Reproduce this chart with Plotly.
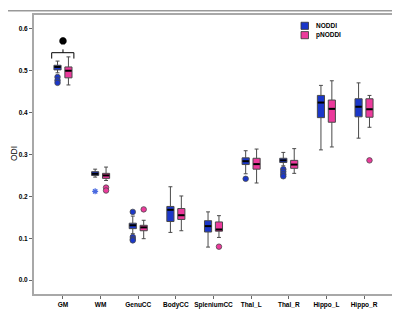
import plotly.graph_objects as go

categories = ["GM", "WM", "GenuCC", "BodyCC", "SpleniumCC", "Thal_L", "Thal_R", "Hippo_L", "Hippo_R"]

# NODDI box statistics
noddi_low = [0.495, 0.246, 0.111, 0.114, 0.079, 0.254, 0.273, 0.311, 0.339]
noddi_q1 = [0.502, 0.250, 0.123, 0.140, 0.115, 0.276, 0.281, 0.388, 0.390]
noddi_med = [0.509, 0.254, 0.131, 0.168, 0.129, 0.284, 0.286, 0.424, 0.414]
noddi_q3 = [0.513, 0.259, 0.136, 0.176, 0.142, 0.292, 0.291, 0.441, 0.433]
noddi_high = [0.523, 0.265, 0.153, 0.223, 0.163, 0.309, 0.305, 0.465, 0.471]

# pNODDI box statistics
pnoddi_low = [0.466, 0.238, 0.099, 0.118, 0.102, 0.232, 0.255, 0.318, 0.365]
pnoddi_q1 = [0.483, 0.243, 0.118, 0.145, 0.117, 0.265, 0.267, 0.377, 0.389]
pnoddi_med = [0.500, 0.250, 0.126, 0.155, 0.121, 0.277, 0.276, 0.409, 0.408]
pnoddi_q3 = [0.509, 0.255, 0.131, 0.171, 0.139, 0.291, 0.286, 0.430, 0.433]
pnoddi_high = [0.533, 0.270, 0.143, 0.201, 0.154, 0.313, 0.314, 0.476, 0.441]

# outliers (category index, value)
noddi_out_cat = [0, 0, 0, 2, 2, 2, 2, 5, 6, 6, 6, 6]
noddi_out_val = [0.485, 0.477, 0.471, 0.163, 0.103, 0.098, 0.095, 0.242, 0.265, 0.259, 0.253, 0.248]
noddi_ext_cat = [1]
noddi_ext_val = [0.212]
pnoddi_out_cat = [1, 1, 2, 4, 8]
pnoddi_out_val = [0.221, 0.214, 0.169, 0.080, 0.286]

# significance marker for GM
sig_cat = 0
sig_bracket_low = 0.529
sig_bracket_high = 0.543
sig_tick_top = 0.551
sig_star = 0.571

BLUE = "#1b37c9"
PINK = "#ec3a9c"
EDGE = "#4a4a4a"
OFF = 0.145
BW = 0.19
FONT = "Liberation Sans"

idx = list(range(len(categories)))
xn = [i - OFF for i in idx]
xp = [i + OFF for i in idx]

fig = go.Figure()

for xs, lo, q1, md, q3, hi, col, name in [
    (xn, noddi_low, noddi_q1, noddi_med, noddi_q3, noddi_high, BLUE, "NODDI"),
    (xp, pnoddi_low, pnoddi_q1, pnoddi_med, pnoddi_q3, pnoddi_high, PINK, "pNODDI"),
]:
    fig.add_trace(go.Box(
        x=xs, q1=q1, median=md, q3=q3, lowerfence=lo, upperfence=hi,
        width=BW, whiskerwidth=0.55, fillcolor=col,
        line=dict(color=EDGE, width=1), name=name, showlegend=False,
        hoverinfo="skip",
    ))
    fig.add_trace(go.Scatter(
        x=xs, y=md, mode="markers",
        marker=dict(symbol="line-ew", size=4.6, color="black", line=dict(color="black", width=2)),
        showlegend=False, hoverinfo="skip",
    ))

fig.add_trace(go.Scatter(
    x=[c - OFF for c in noddi_out_cat], y=noddi_out_val,
    mode="markers", marker=dict(symbol="circle", size=5.5, color=BLUE, line=dict(color=EDGE, width=0.8)),
    showlegend=False, hoverinfo="skip",
))
fig.add_trace(go.Scatter(
    x=[c - OFF for c in noddi_ext_cat], y=noddi_ext_val,
    mode="markers", marker=dict(symbol="asterisk-open", size=5, color="#4a6ae0", line=dict(color="#4a6ae0", width=1.2)),
    showlegend=False, hoverinfo="skip",
))
fig.add_trace(go.Scatter(
    x=[c + OFF for c in pnoddi_out_cat], y=pnoddi_out_val,
    mode="markers", marker=dict(symbol="circle", size=5.5, color=PINK, line=dict(color=EDGE, width=0.8)),
    showlegend=False, hoverinfo="skip",
))

# significance bracket and star
bx = [sig_cat - 0.30, sig_cat - 0.30, sig_cat + 0.29, sig_cat + 0.29]
by = [sig_bracket_low, sig_bracket_high, sig_bracket_high, sig_bracket_low]
fig.add_trace(go.Scatter(x=bx, y=by, mode="lines", line=dict(color="black", width=1),
                         showlegend=False, hoverinfo="skip"))
fig.add_trace(go.Scatter(x=[sig_cat, sig_cat], y=[sig_bracket_high, sig_tick_top], mode="lines",
                         line=dict(color="black", width=1), showlegend=False, hoverinfo="skip"))
fig.add_trace(go.Scatter(x=[sig_cat], y=[sig_star], mode="markers",
                         marker=dict(symbol="asterisk-open", size=6, color="black", line=dict(color="black", width=2.6)),
                         showlegend=False, hoverinfo="skip"))

L, R, T, B = 26, 15, 5, 30
PW, PH = 400 - L - R, 316 - T - B

def px_x(p):
    return (p - L) / PW

def px_y(p):
    return 1 - (p - T) / PH

shapes = []
for (y0, y1, col) in [(12.3, 19.5, BLUE), (21.7, 28.9, PINK)]:
    shapes.append(dict(type="rect", xref="paper", yref="paper",
                       x0=px_x(293), x1=px_x(300.5), y0=px_y(y1), y1=px_y(y0),
                       fillcolor=col, line=dict(color="#333", width=0.8)))
shapes.append(dict(type="line", xref="paper", yref="paper", x0=px_x(0), x1=px_x(400),
                   y0=px_y(0.7), y1=px_y(0.7), line=dict(color="#999", width=1.4)))

annotations = [
    dict(text="<b>NODDI</b>", xref="paper", yref="paper", x=px_x(306), y=px_y(15.9),
         xanchor="left", yanchor="middle", showarrow=False, font=dict(family=FONT, size=6.5, color="black")),
    dict(text="<b>pNODDI</b>", xref="paper", yref="paper", x=px_x(306), y=px_y(25.3),
         xanchor="left", yanchor="middle", showarrow=False, font=dict(family=FONT, size=6.5, color="black")),
    dict(text="ODI", xref="paper", yref="paper", x=px_x(6), y=px_y(145), textangle=-90,
         xanchor="center", yanchor="middle", showarrow=False, font=dict(family=FONT, size=8.5, color="black")),
]

fig.update_layout(
    width=400, height=316, margin=dict(l=L, r=R, t=T, b=B),
    paper_bgcolor="white", plot_bgcolor="white",
    boxmode="overlay", showlegend=False,
    shapes=shapes, annotations=annotations,
    font=dict(family=FONT, color="black"),
)
fig.update_xaxes(
    range=[-0.77, 8.77], tickmode="array", tickvals=idx,
    ticktext=["<b>%s</b>" % c for c in categories],
    tickfont=dict(family=FONT, size=6.5, color="black"),
    showgrid=False, zeroline=False, showline=True, mirror=True,
    linecolor="#a8a8a8", linewidth=2, ticks="outside", ticklen=3, tickcolor="#666", tickwidth=1,
)
fig.update_yaxes(
    range=[-0.033, 0.633], tickmode="array", tickvals=[0.0, 0.1, 0.2, 0.3, 0.4, 0.5, 0.6],
    ticktext=["<b>%.1f</b>" % v for v in [0.0, 0.1, 0.2, 0.3, 0.4, 0.5, 0.6]],
    tickfont=dict(family=FONT, size=6.5, color="black"),
    showgrid=False, zeroline=False, showline=True, mirror=True,
    linecolor="#a8a8a8", linewidth=2, ticks="outside", ticklen=3, tickcolor="#666", tickwidth=1,
)

fig.write_html("out.html")
